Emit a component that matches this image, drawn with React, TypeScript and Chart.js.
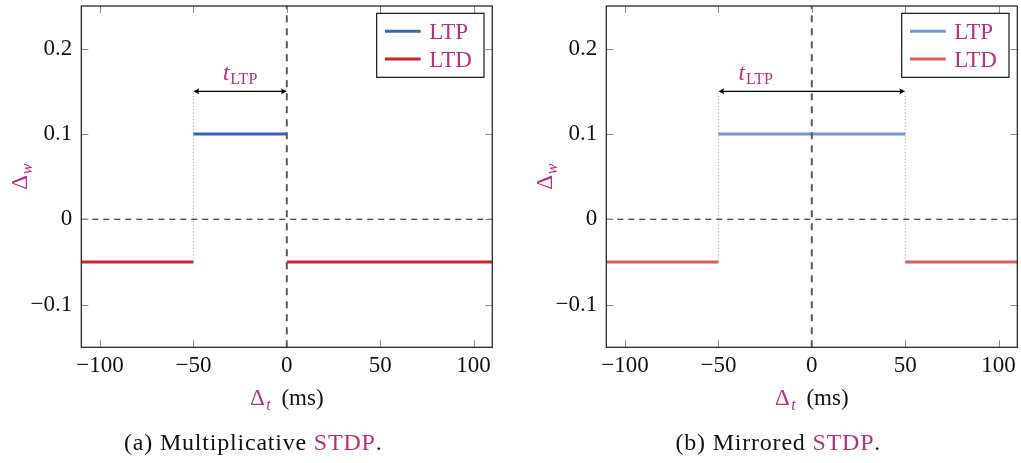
import { useEffect, useRef } from 'react';
import { Chart, registerables } from 'chart.js';

Chart.register(...registerables);

const SERIF = '"Liberation Serif", "Times New Roman", serif';
const ACCENT = '#b8307f';
const INK = '#111111';

const xRange = [-110, 110];
const yRange = [-0.15, 0.25];
const xTickValues = [-100, -50, 0, 50, 100];
const xTickLabels = ['\u2212100', '\u221250', '0', '50', '100'];
const yTickValues = [-0.1, 0, 0.1, 0.2];
const yTickLabels = ['\u22120.1', '0', '0.1', '0.2'];
const legendLabels = ['LTP', 'LTD'];

// (a) Multiplicative STDP
const multLtpX = [-50, 0];
const multLtpY = [0.1, 0.1];
const multLtdLeftX = [-110, -50];
const multLtdLeftY = [-0.05, -0.05];
const multLtdRightX = [0, 110];
const multLtdRightY = [-0.05, -0.05];
const multWindow = [-50, 0];
const multWindowLabelX = -25;
const multGuideX = [-50];

// (b) Mirrored STDP
const mirLtpX = [-50, 50];
const mirLtpY = [0.1, 0.1];
const mirLtdLeftX = [-110, -50];
const mirLtdLeftY = [-0.05, -0.05];
const mirLtdRightX = [50, 110];
const mirLtdRightY = [-0.05, -0.05];
const mirWindow = [-50, 50];
const mirWindowLabelX = -30;
const mirGuideX = [-50, 50];

const arrowLevel = 0.15;
const guideLow = -0.05;

type PanelDef = {
  ltpX: number[]; ltpY: number[];
  ltdLX: number[]; ltdLY: number[];
  ltdRX: number[]; ltdRY: number[];
  window: number[]; windowLabelX: number; guideX: number[];
  ltpColor: string; ltdColor: string;
  tag: string; name: string;
  left: number; yAxisWidth: number; rightPad: number;
};

const panels: PanelDef[] = [
  {
    ltpX: multLtpX, ltpY: multLtpY, ltdLX: multLtdLeftX, ltdLY: multLtdLeftY,
    ltdRX: multLtdRightX, ltdRY: multLtdRightY, window: multWindow,
    windowLabelX: multWindowLabelX, guideX: multGuideX,
    ltpColor: '#3565b5', ltdColor: '#d1232b',
    tag: '(a)', name: 'Multiplicative',
    left: 0, yAxisWidth: 81.3, rightPad: 17.7,
  },
  {
    ltpX: mirLtpX, ltpY: mirLtpY, ltdLX: mirLtdLeftX, ltdLY: mirLtdLeftY,
    ltdRX: mirLtdRightX, ltdRY: mirLtdRightY, window: mirWindow,
    windowLabelX: mirWindowLabelX, guideX: mirGuideX,
    ltpColor: '#7094d8', ltdColor: '#d95f5f',
    tag: '(b)', name: 'Mirrored',
    left: 511, yAxisWidth: 95.3, rightPad: 3.7,
  },
];

const W = 510;
const H = 463;

const pts = (xs: number[], ys: number[]) => xs.map((x, i) => ({ x, y: ys[i] }));

type Part = { text: string; font: string; color: string; dy?: number; gap?: number };

function drawRich(ctx: CanvasRenderingContext2D, parts: Part[], x: number, y: number) {
  let total = 0;
  for (const p of parts) {
    ctx.font = p.font;
    total += ctx.measureText(p.text).width + (p.gap || 0);
  }
  let cx = x - total / 2;
  ctx.textAlign = 'left';
  ctx.textBaseline = 'alphabetic';
  for (const p of parts) {
    ctx.font = p.font;
    ctx.fillStyle = p.color;
    ctx.fillText(p.text, cx, y + (p.dy || 0));
    cx += ctx.measureText(p.text).width + (p.gap || 0);
  }
}

function arrowHead(ctx: CanvasRenderingContext2D, x: number, y: number, dir: number) {
  ctx.beginPath();
  ctx.moveTo(x, y);
  ctx.lineTo(x - dir * 6, y - 3);
  ctx.quadraticCurveTo(x - dir * 4, y, x - dir * 6, y + 3);
  ctx.closePath();
  ctx.fill();
}

function makeChart(canvas: HTMLCanvasElement, p: PanelDef) {
  const decor = {
    id: 'decor' + p.tag,
    afterDraw(chart: any) {
      const ctx: CanvasRenderingContext2D = chart.ctx;
      const ca = chart.chartArea;
      const xs = chart.scales.x;
      const ys = chart.scales.y;
      ctx.save();

      // inner tick marks
      ctx.strokeStyle = '#8a8a8a';
      ctx.lineWidth = 1;
      ctx.setLineDash([]);
      ctx.beginPath();
      for (const v of xTickValues) {
        const px = Math.round(xs.getPixelForValue(v)) + 0.5;
        ctx.moveTo(px, ca.bottom); ctx.lineTo(px, ca.bottom - 7);
        ctx.moveTo(px, ca.top); ctx.lineTo(px, ca.top + 7);
      }
      for (const v of yTickValues) {
        const py = Math.round(ys.getPixelForValue(v)) + 0.5;
        ctx.moveTo(ca.left, py); ctx.lineTo(ca.left + 7, py);
        ctx.moveTo(ca.right, py); ctx.lineTo(ca.right - 7, py);
      }
      ctx.stroke();

      // frame
      ctx.strokeStyle = '#1a1a1a';
      ctx.lineWidth = 1.2;
      ctx.strokeRect(ca.left, ca.top, ca.right - ca.left, ca.bottom - ca.top);

      // t_LTP arrow
      const ay = ys.getPixelForValue(arrowLevel);
      const ax0 = xs.getPixelForValue(p.window[0]);
      const ax1 = xs.getPixelForValue(p.window[1]);
      ctx.strokeStyle = '#000';
      ctx.fillStyle = '#000';
      ctx.lineWidth = 1.1;
      ctx.beginPath();
      ctx.moveTo(ax0 + 2, ay); ctx.lineTo(ax1 - 2, ay);
      ctx.stroke();
      arrowHead(ctx, ax0, ay, -1);
      arrowHead(ctx, ax1, ay, 1);

      const lx = xs.getPixelForValue(p.windowLabelX);
      drawRich(ctx, [
        { text: 't', font: `italic 23px ${SERIF}`, color: ACCENT, gap: 1 },
        { text: 'LTP', font: `16px ${SERIF}`, color: ACCENT, dy: 3.5 },
      ], lx, ay - 11);

      // legend
      const bw = 107.3, bh = 64;
      const bx = ca.right - 8.3 - bw;
      const by = ca.top + 7.3;
      ctx.fillStyle = '#fff';
      ctx.fillRect(bx, by, bw, bh);
      ctx.strokeStyle = '#000';
      ctx.lineWidth = 1.1;
      ctx.strokeRect(bx, by, bw, bh);
      const legendColors = [p.ltpColor, p.ltdColor];
      legendLabels.forEach((lab, i) => {
        const ly = by + 18 + i * 27.7;
        ctx.strokeStyle = legendColors[i];
        ctx.lineWidth = 3;
        ctx.beginPath();
        ctx.moveTo(bx + 8.3, ly); ctx.lineTo(bx + 44, ly);
        ctx.stroke();
        ctx.fillStyle = ACCENT;
        ctx.font = `23px ${SERIF}`;
        ctx.textAlign = 'left';
        ctx.textBaseline = 'alphabetic';
        ctx.fillText(lab, bx + 52.5, ly + 7.5);
      });

      // x axis title
      const cx = (ca.left + ca.right) / 2;
      drawRich(ctx, [
        { text: '\u0394', font: `23px ${SERIF}`, color: ACCENT, gap: 1.5 },
        { text: 't', font: `italic 16px ${SERIF}`, color: ACCENT, dy: 5, gap: 5 },
        { text: ' (ms)', font: `23px ${SERIF}`, color: INK },
      ], cx, 405);

      // y axis title
      ctx.save();
      ctx.translate(ca.left - 54.6, (ca.top + ca.bottom) / 2);
      ctx.rotate(-Math.PI / 2);
      drawRich(ctx, [
        { text: '\u0394', font: `23px ${SERIF}`, color: ACCENT, gap: 0.5 },
        { text: 'w', font: `italic 16px ${SERIF}`, color: ACCENT, dy: 5 },
      ], 0, 0);
      ctx.restore();

      // caption
      (ctx as any).letterSpacing = '0.8px';
      drawRich(ctx, [
        { text: p.tag + ' ' + p.name + ' ', font: `24px ${SERIF}`, color: INK },
        { text: 'STDP', font: `24px ${SERIF}`, color: ACCENT },
        { text: '.', font: `24px ${SERIF}`, color: INK },
      ], cx - 33.5, 450);
      (ctx as any).letterSpacing = '0px';

      ctx.restore();
    },
  };

  const line = (data: any[], color: string, width: number, dash: number[] = []) => ({
    data,
    borderColor: color,
    backgroundColor: color,
    borderWidth: width,
    borderDash: dash,
    pointRadius: 0,
    pointHoverRadius: 0,
    fill: false,
    tension: 0,
    showLine: true,
    borderCapStyle: 'butt',
  });

  const datasets: any[] = [
    line(pts([0, 0], yRange), '#5a5a5a', 2, [7, 6]),
    line(pts(p.ltpX, p.ltpY), p.ltpColor, 3),
    line(pts(p.ltdLX, p.ltdLY), p.ltdColor, 3),
    line(pts(p.ltdRX, p.ltdRY), p.ltdColor, 3),
    line(pts(xRange, [0, 0]), '#111', 1.1, [6, 5]),
    ...p.guideX.map((gx) => line(pts([gx, gx], [guideLow, arrowLevel]), '#9a9a9a', 1, [1, 2.3])),
  ];

  return new Chart(canvas, {
    type: 'line',
    data: { datasets },
    options: {
      responsive: false,
      animation: false,
      devicePixelRatio: 1,
      events: [],
      layout: { padding: { left: 0, right: p.rightPad, top: 6, bottom: 0 } },
      plugins: { legend: { display: false }, tooltip: { enabled: false }, title: { display: false } },
      scales: {
        x: {
          type: 'linear',
          min: xRange[0],
          max: xRange[1],
          grid: { display: false, drawTicks: false },
          border: { display: false },
          afterBuildTicks: (s: any) => { s.ticks = xTickValues.map((v) => ({ value: v })); },
          afterFit: (s: any) => { s.height = H - 347.3; s.paddingLeft = 0; s.paddingRight = 0; },
          ticks: {
            autoSkip: false,
            maxRotation: 0,
            minRotation: 0,
            padding: 5,
            color: INK,
            font: { family: SERIF, size: 23 },
            callback: (v: any) => xTickLabels[xTickValues.indexOf(Number(v))],
          },
        },
        y: {
          type: 'linear',
          min: yRange[0],
          max: yRange[1],
          grid: { display: false, drawTicks: false },
          border: { display: false },
          afterBuildTicks: (s: any) => { s.ticks = yTickValues.map((v) => ({ value: v })); },
          afterFit: (s: any) => { s.width = p.yAxisWidth; s.paddingTop = 0; s.paddingBottom = 0; },
          ticks: {
            autoSkip: false,
            padding: 9,
            color: INK,
            font: { family: SERIF, size: 23 },
            callback: (v: any) => yTickLabels[yTickValues.indexOf(Number(v))],
          },
        },
      },
    },
    plugins: [decor],
  } as any);
}

export default function App() {
  const r0 = useRef<HTMLCanvasElement>(null);
  const r1 = useRef<HTMLCanvasElement>(null);
  useEffect(() => {
    const charts = [makeChart(r0.current!, panels[0]), makeChart(r1.current!, panels[1])];
    return () => charts.forEach((c) => c.destroy());
  }, []);
  return (
    <div style={{ position: 'absolute', left: 0, top: 0, width: 1021, height: 463, background: '#fff' }}>
      <canvas ref={r0} width={W} height={H} style={{ position: 'absolute', left: panels[0].left, top: 0, width: W, height: H }} />
      <canvas ref={r1} width={W} height={H} style={{ position: 'absolute', left: panels[1].left, top: 0, width: W, height: H }} />
    </div>
  );
}
